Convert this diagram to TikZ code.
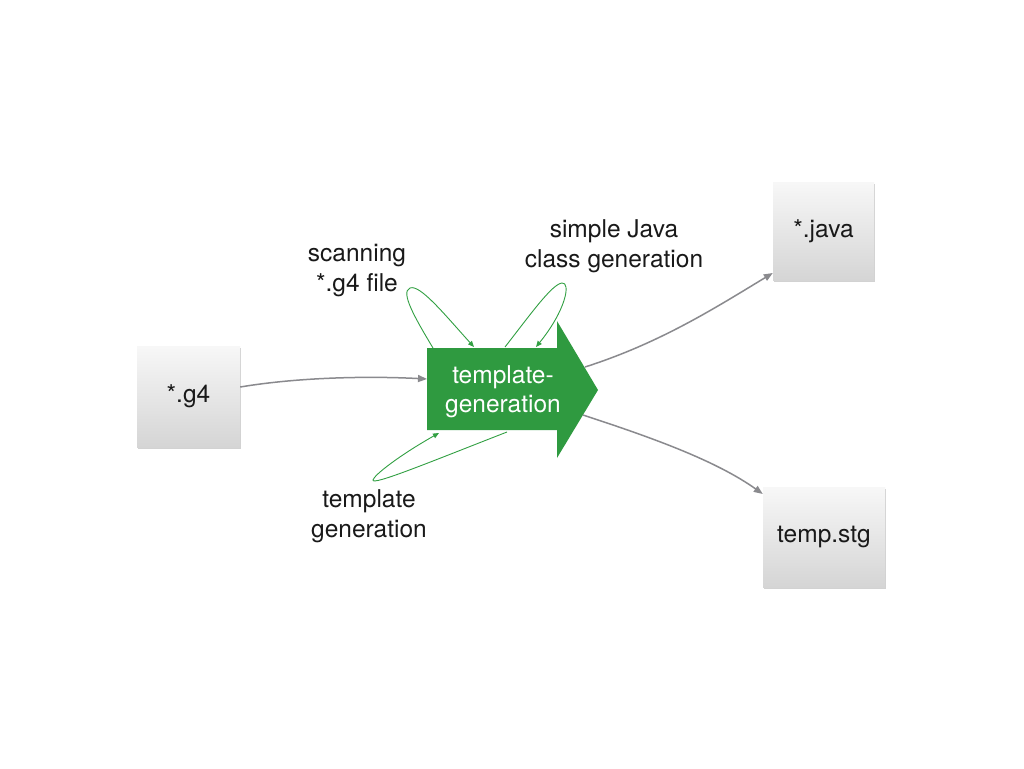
\documentclass[tikz,border=0pt]{standalone}
\usepackage{fontspec}
\setmainfont{TeX Gyre Heros}
\usetikzlibrary{arrows.meta,shadows}
\definecolor{tgreen}{HTML}{2F9A40}
\definecolor{lgreen}{HTML}{32A043}
\definecolor{conn}{HTML}{8A8A8E}
\tikzset{
  filebox/.style={inner sep=0pt, shading=axis, top color=gray!6, bottom color=gray!33,
    drop shadow={opacity=0.35, shadow xshift=1pt, shadow yshift=-1.5pt},
    font=\fontsize{24.5}{30}\selectfont, text=black!90},
  lbl/.style={align=center, inner sep=0pt, font=\fontsize{24.5}{30}\selectfont, text=black!90},
  flow/.style={draw=conn, line width=1.5pt, -{Triangle[length=9pt,width=7pt]}},
  loop/.style={draw=lgreen, line width=0.9pt, -{Triangle[length=6pt,width=5pt]}}
}
\begin{document}
\begin{tikzpicture}[x=1pt,y=-1pt]
\useasboundingbox (0,0) rectangle (1024,768);
\fill[white] (0,0) rectangle (1024,768);

% file boxes
\node[filebox, minimum width=103pt, minimum height=101pt] (g4) at (188.5,396.5) {*.g4};
\node[filebox, minimum width=101pt, minimum height=98pt] (java) at (823.5,231) {*.java};
\node[filebox, minimum width=122pt, minimum height=100pt] (stg) at (824,537) {temp.stg};

% big green arrow
\fill[tgreen] (427,348) -- (557,348) -- (557,321) -- (598,390) -- (557,458) -- (557,430) -- (427,430) -- cycle;
\node[align=center, inner sep=0pt, text=white, font=\fontsize{24.5}{29}\selectfont] (tg) at (503,392) {template-\\generation};

% connection points on the arrow
\coordinate (tgin) at (427,379);
\coordinate (tgup) at (585,367);
\coordinate (tgdn) at (583,415);
\coordinate (sA) at (433,348);
\coordinate (sB) at (474,347);
\coordinate (sT) at (410,288);
\coordinate (jA) at (505,347);
\coordinate (jB) at (536,347);
\coordinate (jT) at (562,283);
\coordinate (bA) at (507,432);
\coordinate (bB) at (439,433);
\coordinate (bT) at (373,480);

% grey flows
\draw[flow] (g4.east |- 0,387) .. controls (300,377) and (370,376) .. (tgin);
\draw[flow] (tgup) .. controls (660,343) and (715,308) .. (java.south west |- 0,273);
\draw[flow] (tgdn) .. controls (650,437) and (715,460) .. (stg.north west |- 0,494);

% green self loops
\draw[loop] (sA) .. controls (415,318) and (400,292) .. (sT) .. controls (420,284) and (445,315) .. (sB);
\draw[loop] (jA) .. controls (530,315) and (552,284) .. (jT) .. controls (571,282) and (566,310) .. (jB);
\draw[loop] (bA) .. controls (430,462) and (372,486) .. (bT) .. controls (374,475) and (400,455) .. (bB);

% labels
\node[lbl] (lscan) at (357,271) {scanning\\*.g4 file};
\node[lbl] (ljava) at (614,246) {simple Java\\class generation};
\node[lbl] (ltmpl) at (369,516) {template\\generation};
\end{tikzpicture}
\end{document}
